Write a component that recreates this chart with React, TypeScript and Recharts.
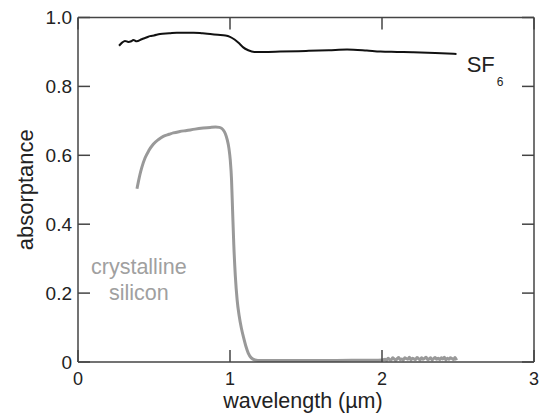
import React from 'react';
import { LineChart, Line, XAxis, YAxis, ReferenceDot } from 'recharts';

const sf6Wavelength = [0.27, 0.29, 0.309, 0.331, 0.35, 0.364, 0.386, 0.419, 0.45, 0.474, 0.5, 0.54, 0.6, 0.65, 0.7, 0.76, 0.82, 0.87, 0.92, 0.97, 1.0, 1.03, 1.06, 1.085, 1.12, 1.16, 1.22, 1.33, 1.5, 1.65, 1.77, 1.9, 1.99, 2.1, 2.2, 2.35, 2.49];
const sf6Absorptance = [0.918, 0.927, 0.932, 0.929, 0.931, 0.935, 0.931, 0.937, 0.942, 0.946, 0.948, 0.952, 0.954, 0.956, 0.956, 0.956, 0.954, 0.952, 0.95, 0.948, 0.944, 0.936, 0.925, 0.914, 0.905, 0.9, 0.9, 0.901, 0.903, 0.905, 0.907, 0.904, 0.901, 0.9, 0.899, 0.897, 0.894];

const siWavelength = [0.388, 0.398, 0.408, 0.42, 0.441, 0.465, 0.495, 0.53, 0.561, 0.6, 0.627, 0.67, 0.715, 0.77, 0.824, 0.87, 0.905, 0.93, 0.945, 0.958, 0.97, 0.982, 0.993, 1.002, 1.01, 1.017, 1.025, 1.035, 1.047, 1.06, 1.075, 1.09, 1.105, 1.12, 1.14, 1.165, 1.2, 1.4, 1.6, 1.8, 1.95, 2.0,
  2.02, 2.03, 2.04, 2.05, 2.06, 2.07, 2.08, 2.09, 2.1, 2.11, 2.12, 2.13, 2.14, 2.15, 2.16, 2.17, 2.18, 2.19, 2.2, 2.21, 2.22, 2.23, 2.24, 2.25, 2.26, 2.27, 2.28, 2.29, 2.3, 2.31, 2.32, 2.33, 2.34, 2.35, 2.36, 2.37, 2.38, 2.39, 2.4, 2.41, 2.42, 2.43, 2.44, 2.45, 2.46, 2.47, 2.48, 2.49];
const siAbsorptance = [0.503, 0.525, 0.545, 0.565, 0.592, 0.613, 0.632, 0.646, 0.655, 0.661, 0.665, 0.669, 0.672, 0.676, 0.679, 0.681, 0.682, 0.681, 0.678, 0.672, 0.662, 0.645, 0.62, 0.585, 0.53, 0.44, 0.34, 0.25, 0.18, 0.135, 0.098, 0.07, 0.045, 0.026, 0.012, 0.006, 0.004, 0.004, 0.004, 0.005, 0.005, 0.006,
  0.008, 0.005, 0.011, 0.007, 0.006, 0.012, 0.009, 0.005, 0.01, 0.013, 0.007, 0.009, 0.006, 0.012, 0.01, 0.008, 0.014, 0.006, 0.011, 0.009, 0.007, 0.013, 0.01, 0.006, 0.012, 0.008, 0.011, 0.014, 0.007, 0.009, 0.012, 0.006, 0.01, 0.013, 0.008, 0.011, 0.007, 0.012, 0.009, 0.014, 0.006, 0.011, 0.008, 0.012, 0.01, 0.007, 0.013, 0.005];

const xTicks = [0, 1, 2, 3];
const yTicks = [0, 0.2, 0.4, 0.6, 0.8, 1.0];
const xDomain = [0, 3];
const yDomain = [0, 1];

const xAxisTitle = 'wavelength (µm)';
const yAxisTitle = 'absorptance';
const sf6Name = 'SF';
const sf6Sub = '6';
const sf6LabelAt = { x: 2.557, y: 0.843 };
const siLabelLines = ['crystalline', 'silicon'];
const siLabelAt = { x: 0.4, y: 0.2554 };

const sf6Data = sf6Wavelength.map((w, i) => ({ w, a: sf6Absorptance[i] }));
const siData = siWavelength.map((w, i) => ({ w, a: siAbsorptance[i] }));

const FONT = '"Liberation Sans", Arial, Helvetica, sans-serif';
const TEXT = '#222';
const FRAME = '#444';
const lineStyle = { stroke: FRAME, strokeWidth: 1.5 };

const yFmt = (v: number) => (v === 0 ? '0' : v.toFixed(1));
const NoTick = () => <g />;

export default function App() {
  return (
    <div style={{ position: 'absolute', left: 0, top: 0, width: 541, height: 414, background: '#fff' }}>
      <LineChart width={541} height={414} margin={{ top: 17.5, right: 7, left: 0, bottom: 0 }}>
        <XAxis
          xAxisId="main"
          type="number"
          dataKey="w"
          domain={xDomain}
          ticks={xTicks}
          interval={0}
          allowDataOverflow
          height={52}
          tickSize={-12}
          tickMargin={22}
          tickLine={lineStyle}
          axisLine={lineStyle}
          tick={{ fontSize: 18, fill: TEXT, fontFamily: FONT }}
          label={{
            content: (props: any) => {
              const vb = props.viewBox || { x: 78, y: 362, width: 456 };
              return (
                <text x={vb.x + vb.width / 2 - 3} y={vb.y + 46} textAnchor="middle" fontSize={21.5} fill={TEXT} fontFamily={FONT}>
                  {xAxisTitle}
                </text>
              );
            },
          }}
        />
        <XAxis
          xAxisId="top"
          type="number"
          dataKey="w"
          orientation="top"
          mirror
          domain={xDomain}
          allowDataOverflow
          ticks={xTicks}
          interval={0}
          tick={NoTick}
          tickSize={12}
          axisLine={lineStyle}
          tickLine={lineStyle}
          height={12}
        />
        <YAxis
          yAxisId="main"
          type="number"
          domain={yDomain}
          ticks={yTicks}
          interval={0}
          allowDataOverflow
          width={78}
          tickSize={-12}
          tickMargin={18}
          tickLine={lineStyle}
          tickFormatter={yFmt}
          axisLine={lineStyle}
          tick={{ fontSize: 19, fill: TEXT, fontFamily: FONT }}
          label={{
            content: (props: any) => {
              const vb = props.viewBox || { x: 0, y: 17.5, width: 78, height: 344.5 };
              const cx = 33;
              const cy = vb.y + vb.height / 2;
              return (
                <text x={cx} y={cy} transform={`rotate(-90 ${cx} ${cy})`} textAnchor="middle" fontSize={22} fill={TEXT} fontFamily={FONT}>
                  {yAxisTitle}
                </text>
              );
            },
          }}
        />
        <YAxis
          yAxisId="right"
          type="number"
          orientation="right"
          mirror
          domain={yDomain}
          allowDataOverflow
          ticks={yTicks}
          interval={0}
          tick={NoTick}
          tickSize={12}
          axisLine={lineStyle}
          tickLine={lineStyle}
          width={12}
        />
        <Line
          xAxisId="top"
          yAxisId="right"
          data={sf6Data}
          dataKey="a"
          stroke="none"
          fill="none"
          dot={false}
          activeDot={false}
          legendType="none"
          isAnimationActive={false}
        />
        <Line
          xAxisId="main"
          yAxisId="main"
          data={siData}
          dataKey="a"
          type="monotone"
          stroke="#999"
          strokeWidth={3}
          dot={false}
          isAnimationActive={false}
        />
        <Line
          xAxisId="main"
          yAxisId="main"
          data={sf6Data}
          dataKey="a"
          type="monotone"
          stroke="#111"
          strokeWidth={2}
          dot={false}
          isAnimationActive={false}
        />
        <ReferenceDot
          xAxisId="main"
          yAxisId="main"
          x={sf6LabelAt.x}
          y={sf6LabelAt.y}
          r={0}
          shape={(p: any) => (
            <text x={p.cx} y={p.cy} fontSize={22} fill={TEXT} fontFamily={FONT}>
              {sf6Name}
              <tspan dx={2} dy={14} fontSize={12}>{sf6Sub}</tspan>
            </text>
          )}
        />
        <ReferenceDot
          xAxisId="main"
          yAxisId="main"
          x={siLabelAt.x}
          y={siLabelAt.y}
          r={0}
          shape={(p: any) => (
            <text x={p.cx} y={p.cy} textAnchor="middle" fontSize={21.5} fill="#a0a0a0" fontFamily={FONT}>
              {siLabelLines.map((t, i) => (
                <tspan key={t} x={p.cx} dy={i === 0 ? 0 : 26}>{t}</tspan>
              ))}
            </text>
          )}
        />
      </LineChart>
    </div>
  );
}
